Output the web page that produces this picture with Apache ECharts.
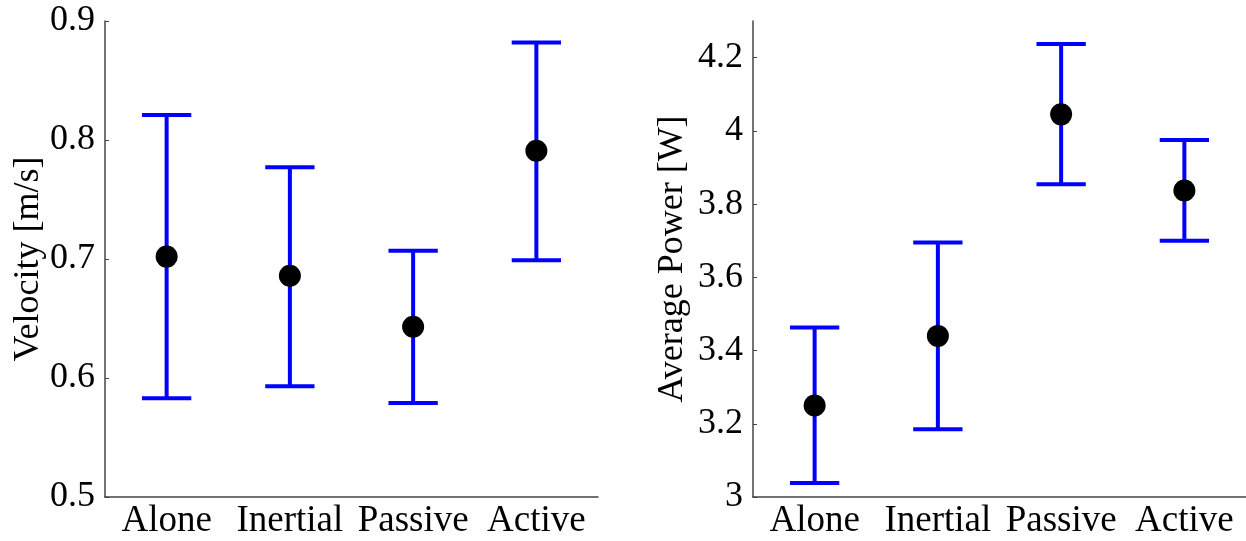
<!DOCTYPE html>
<html>
<head>
<meta charset="utf-8">
<script src="https://cdn.jsdelivr.net/npm/echarts@6/dist/echarts.min.js"></script>
<style>
html,body{margin:0;padding:0;background:#fff;}
#main{width:1246px;height:541px;}
</style>
</head>
<body>
<div id="main"></div>
<script>
var categories = ['Alone', 'Inertial', 'Passive', 'Active'];

var velocityMean = [0.702, 0.686, 0.643, 0.791];
var velocityLow  = [0.583, 0.593, 0.579, 0.699];
var velocityHigh = [0.821, 0.777, 0.707, 0.882];
var velocityTicks = [0.5, 0.6, 0.7, 0.8, 0.9];

var powerMean = [3.250, 3.440, 4.045, 3.837];
var powerLow  = [3.038, 3.185, 3.854, 3.700];
var powerHigh = [3.463, 3.695, 4.237, 3.975];
var powerTicks = [3, 3.2, 3.4, 3.6, 3.8, 4, 4.2];

var FONT = 'Liberation Serif';
var AXIS_COLOR = '#444';

function errData(low, high) {
  return categories.map(function (c, i) { return [i, low[i], high[i]]; });
}
function meanData(mean) {
  return categories.map(function (c, i) { return [i, mean[i]]; });
}

function renderErr(params, api) {
  var x = api.value(0);
  var lo = api.coord([x, api.value(1)]);
  var hi = api.coord([x, api.value(2)]);
  var half = api.size([1, 0])[0] * 0.2;
  var style = { stroke: '#0000ff', lineWidth: 4, fill: null };
  return {
    type: 'group',
    children: [
      { type: 'line', shape: { x1: lo[0], y1: lo[1], x2: hi[0], y2: hi[1] }, style: style },
      { type: 'line', shape: { x1: hi[0] - half, y1: hi[1], x2: hi[0] + half, y2: hi[1] }, style: style },
      { type: 'line', shape: { x1: lo[0] - half, y1: lo[1], x2: lo[0] + half, y2: lo[1] }, style: style }
    ]
  };
}

function xAxisFor(gi) {
  return {
    type: 'category', gridIndex: gi, data: categories, boundaryGap: true,
    axisLine: { lineStyle: { color: AXIS_COLOR, width: 1.5 } },
    axisTick: { inside: true, length: 4, alignWithLabel: true, interval: 0, lineStyle: { color: AXIS_COLOR } },
    axisLabel: { color: '#000', fontFamily: FONT, fontSize: 37, margin: 6, interval: 0, hideOverlap: false },
    splitLine: { show: false }
  };
}

function yAxisFor(gi, name, min, max, ticks, gap) {
  return {
    type: 'value', gridIndex: gi, min: min, max: max,
    name: name, nameLocation: 'middle', nameGap: gap, nameRotate: 90,
    nameTextStyle: { color: '#000', fontFamily: FONT, fontSize: 36 },
    axisLine: { show: true, lineStyle: { color: AXIS_COLOR, width: 1.5 } },
    axisTick: { show: true, inside: true, length: 4, customValues: ticks, lineStyle: { color: AXIS_COLOR } },
    axisLabel: { color: '#000', fontFamily: FONT, fontSize: 36, margin: 10, customValues: ticks },
    splitLine: { show: false }
  };
}

var chart = echarts.init(document.getElementById('main'), null, { renderer: 'canvas' });
chart.setOption({
  animation: false,
  backgroundColor: '#fff',
  grid: [
    { left: 105, top: 21, width: 493, height: 476 },
    { left: 753, top: 21, width: 493, height: 476 }
  ],
  xAxis: [xAxisFor(0), xAxisFor(1)],
  yAxis: [
    yAxisFor(0, 'Velocity [m/s]', 0.5, 0.9, velocityTicks, 56),
    yAxisFor(1, 'Average Power [W]', 3, 4.3, powerTicks, 62)
  ],
  series: [
    { type: 'custom', xAxisIndex: 0, yAxisIndex: 0, renderItem: renderErr, data: errData(velocityLow, velocityHigh), z: 1 },
    { type: 'scatter', xAxisIndex: 0, yAxisIndex: 0, symbol: 'circle', symbolSize: 22,
      itemStyle: { color: '#000', opacity: 1 }, data: meanData(velocityMean), z: 2 },
    { type: 'custom', xAxisIndex: 1, yAxisIndex: 1, renderItem: renderErr, data: errData(powerLow, powerHigh), z: 1 },
    { type: 'scatter', xAxisIndex: 1, yAxisIndex: 1, symbol: 'circle', symbolSize: 22,
      itemStyle: { color: '#000', opacity: 1 }, data: meanData(powerMean), z: 2 }
  ]
});
</script>
</body>
</html>
